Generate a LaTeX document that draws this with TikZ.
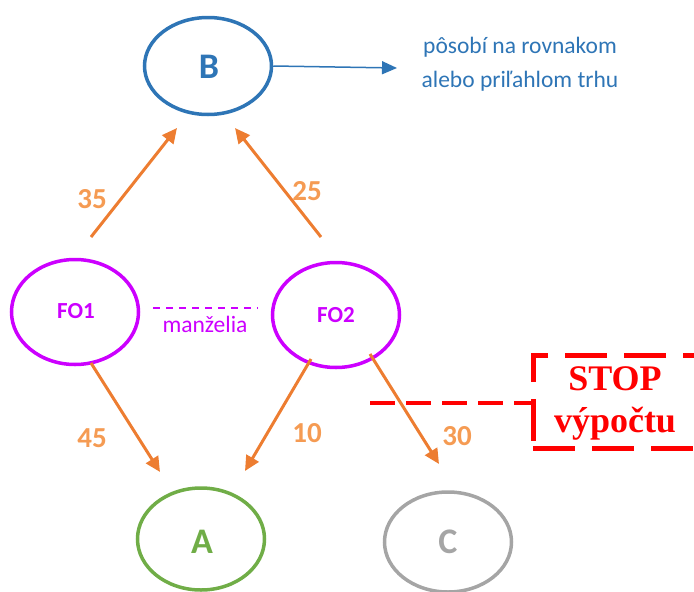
\documentclass[tikz,border=0pt]{standalone}
\usepackage{fontspec}
\setmainfont{Carlito}
\newfontfamily\stopfont{Liberation Serif}
\usetikzlibrary{shapes.geometric,arrows.meta}
\definecolor{cblue}{HTML}{2E75B6}
\definecolor{cpurple}{HTML}{CC00FF}
\definecolor{corange}{HTML}{ED7D31}
\definecolor{clabel}{HTML}{F59B53}
\definecolor{cgreen}{HTML}{70AD47}
\definecolor{cgray}{HTML}{A5A5A5}
\definecolor{cred}{HTML}{FF0000}
\tikzset{
  ell/.style={ellipse, draw, line width=3.5pt, inner sep=0pt, minimum width=127pt},
  flow/.style={corange, line width=3pt, -{Triangle[length=15pt,width=14pt]}},
  num/.style={clabel, font=\fontsize{29}{32}\selectfont\bfseries, anchor=base},
  redline/.style={cred, line width=5pt}
}
\begin{document}
\begin{tikzpicture}[x=1pt,y=-1pt]
\useasboundingbox (0,0) rectangle (694,592);
\clip (0,0) rectangle (694,592);
% nodes
\node[ell, cblue, minimum height=97pt] (B) at (208,66) {};
\node[cblue, font=\fontsize{36}{40}\selectfont\bfseries, anchor=base] (Bt) at (209,78) {B};
\node[ell, cpurple, minimum height=105pt] (FO1) at (75,312) {};
\node[cpurple, font=\fontsize{23}{26}\selectfont\bfseries] (FO1t) at (76,311) {FO1};
\node[ell, cpurple, minimum height=105pt] (FO2) at (336,315) {};
\node[cpurple, font=\fontsize{23}{26}\selectfont\bfseries] (FO2t) at (336,315) {FO2};
\node[ell, cgreen, minimum height=102pt] (A) at (201,539) {};
\node[cgreen, font=\fontsize{36}{40}\selectfont\bfseries, anchor=base] (At) at (202,553) {A};
\node[ell, cgray, minimum height=100pt] (C) at (448,542) {};
\node[cgray, font=\fontsize{36}{40}\selectfont\bfseries, anchor=base] (Ct) at (448,553) {C};
% note
\node[cblue, font=\fontsize{23.5}{26}\selectfont, anchor=base] (n1) at (520,53) {pôsobí na rovnakom};
\node[cblue, font=\fontsize{23.5}{26}\selectfont, anchor=base] (n2) at (520,87) {alebo priľahlom trhu};
\coordinate (nt) at (397,68);
\draw[cblue, line width=1.5pt, -{Triangle[length=15pt,width=13pt]}] (B.east) -- (nt);
% spouses
\coordinate (d1) at (153,308);
\coordinate (d2) at (258,308);
\draw[cpurple, line width=1.5pt, dash pattern=on 7pt off 6pt] (d1) -- (d2);
\node[cpurple, font=\fontsize{23.5}{26}\selectfont, anchor=base] (mz) at (205,332) {manželia};
% orange arrows
\coordinate (s35) at (91,237);  \coordinate (e35) at (177,128);
\coordinate (s25) at (321,237); \coordinate (e25) at (235,128);
\coordinate (s45) at (91,363);  \coordinate (e45) at (160,472);
\coordinate (s10) at (311,359); \coordinate (e10) at (245,471);
\coordinate (s30) at (370,354); \coordinate (e30) at (439,464);
\draw[flow] (s35) -- (e35);
\draw[flow] (s25) -- (e25);
\draw[flow] (s45) -- (e45);
\draw[flow] (s10) -- (e10);
\draw[flow] (s30) -- (e30);
\node[num] (l35) at (92,208) {35};
\node[num] (l25) at (307,200) {25};
\node[num] (l45) at (92,447) {45};
\node[num] (l10) at (307,442) {10};
\node[num] (l30) at (457,445) {30};
% stop box
\coordinate (bx1) at (760,355);
\coordinate (bx2) at (533,355);
\coordinate (bx3) at (533,448);
\coordinate (bx4) at (760,448);
\coordinate (hl) at (370,403);
\coordinate (hr) at (533,403);
\draw[redline, dash pattern=on 42pt off 17pt, dash phase=24pt] (bx1) -- (bx2) -- (bx3);
\draw[redline, dash pattern=on 42pt off 17pt] (bx3) -- (bx4);
\draw[redline, line width=4.5pt, dash pattern=on 25pt off 11pt] (hl) -- (hr);
\node[cred, font=\stopfont\fontsize{36}{40}\selectfont\bfseries, anchor=base] (st1) at (615,390) {STOP};
\node[cred, font=\stopfont\fontsize{36}{40}\selectfont\bfseries, anchor=base] (st2) at (615,432) {výpočtu};
\end{tikzpicture}
\end{document}
